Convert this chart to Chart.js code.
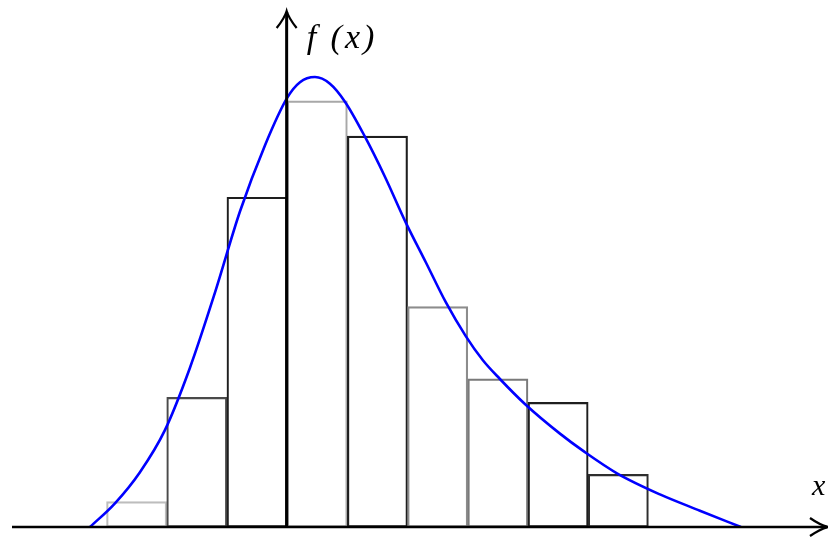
<!DOCTYPE html>
<html>
<head>
<meta charset="utf-8">
<script src="https://cdn.jsdelivr.net/npm/chart.js@4/dist/chart.umd.min.js"></script>
<style>
html,body{margin:0;padding:0;background:#fff;}
#wrap{width:828px;height:545px;}
</style>
</head>
<body>
<div id="wrap"><canvas id="c" width="828" height="545"></canvas></div>
<script>
// Histogram bins (centers, in bin-width units; y-axis sits at x = 0)
const binCenters = [-2.5, -1.5, -0.5, 0.5, 1.5, 2.5, 3.5, 4.5, 5.5];
const binHeights = [0.0137, 0.070, 0.178, 0.230, 0.211, 0.119, 0.080, 0.0673, 0.0284];
const binEdgeColors = ['#bdbdbd', '#4a4a4a', '#1e1e1e', '#a8a8a8', '#1e1e1e', '#8c8c8c', '#7a7a7a', '#1e1e1e', '#2e2e2e'];

// Density curve f(x)
const curveX = [-3.275, -2.860, -2.445, -2.030, -1.614, -1.199, -0.784, -0.369, -0.003, 0.213, 0.462, 0.711, 0.960, 1.292, 1.624, 1.973, 2.305, 2.637, 2.969, 3.251, 3.534, 3.949, 4.531, 4.946, 5.478, 6.192, 6.856, 7.537];
const curveY = [0.0000, 0.0128, 0.0296, 0.0523, 0.0860, 0.1265, 0.1703, 0.2060, 0.2315, 0.2401, 0.2429, 0.2393, 0.2296, 0.2107, 0.1891, 0.1642, 0.1428, 0.1212, 0.1029, 0.0900, 0.0799, 0.0664, 0.0504, 0.0404, 0.0290, 0.0176, 0.0088, 0.0000];

const yLabel = 'f (x)';
const xLabel = 'x';

const axesPlugin = {
  id: 'axesArrows',
  afterDatasetsDraw(chart) {
    const ctx = chart.ctx;
    const xs = chart.scales.x, ys = chart.scales.y, ca = chart.chartArea;
    const x0 = xs.getPixelForValue(0) - 0.5;
    const y0 = ys.getPixelForValue(0);
    ctx.save();
    ctx.strokeStyle = '#000';
    ctx.lineCap = 'butt';
    // x axis
    ctx.lineWidth = 2.5;
    ctx.beginPath();
    ctx.moveTo(ca.left, y0);
    ctx.lineTo(ca.right + 1, y0);
    ctx.stroke();
    // x arrow
    ctx.lineWidth = 2.2;
    ctx.beginPath();
    ctx.moveTo(ca.right - 16, y0 - 9);
    ctx.quadraticCurveTo(ca.right - 6, y0 - 2, ca.right + 2, y0);
    ctx.quadraticCurveTo(ca.right - 6, y0 + 2, ca.right - 16, y0 + 9);
    ctx.stroke();
    // y axis
    ctx.lineWidth = 3;
    ctx.beginPath();
    ctx.moveTo(x0, y0);
    ctx.lineTo(x0, ca.top);
    ctx.stroke();
    // y arrow
    ctx.lineWidth = 2.2;
    ctx.beginPath();
    ctx.moveTo(x0 - 10, ca.top + 16);
    ctx.quadraticCurveTo(x0 - 2, ca.top + 6, x0, ca.top - 1);
    ctx.quadraticCurveTo(x0 + 2, ca.top + 6, x0 + 10, ca.top + 16);
    ctx.stroke();
    // labels
    ctx.fillStyle = '#000';
    ctx.textBaseline = 'middle';
    ctx.textAlign = 'left';
    ctx.font = 'italic 34px "Liberation Serif", "DejaVu Serif", serif';
    ctx.letterSpacing = '3px';
    ctx.fillText(yLabel, x0 + 20, ca.top + 27);
    ctx.letterSpacing = '0px';
    ctx.font = 'italic 30px "Liberation Serif", "DejaVu Serif", serif';
    ctx.fillText(xLabel, ca.right - 14, y0 - 40);
    ctx.restore();
  }
};

new Chart(document.getElementById('c'), {
  type: 'bar',
  data: {
    datasets: [
      {
        type: 'line',
        label: 'f(x)',
        data: curveX.map((x, i) => ({x: x, y: curveY[i]})),
        borderColor: '#0000ff',
        borderWidth: 2.6,
        pointRadius: 0,
        fill: false,
        cubicInterpolationMode: 'monotone',
        order: 0
      },
      {
        type: 'bar',
        label: 'histogram',
        data: binCenters.map((x, i) => ({x: x, y: binHeights[i]})),
        backgroundColor: 'rgba(255,255,255,0)',
        borderColor: binEdgeColors,
        borderWidth: 1.5,
        borderSkipped: false,
        barPercentage: 1,
        categoryPercentage: 1,
        order: 1
      }
    ]
  },
  options: {
    responsive: false,
    animation: false,
    layout: {padding: {left: 12, right: 2, top: 12, bottom: 18}},
    plugins: {legend: {display: false}, tooltip: {enabled: false}},
    scales: {
      x: {type: 'linear', min: -4.57, max: 8.95, display: false, offset: false, ticks: {stepSize: 100}},
      y: {type: 'linear', min: 0, max: 0.278, display: false}
    }
  },
  plugins: [axesPlugin]
});
</script>
</body>
</html>
